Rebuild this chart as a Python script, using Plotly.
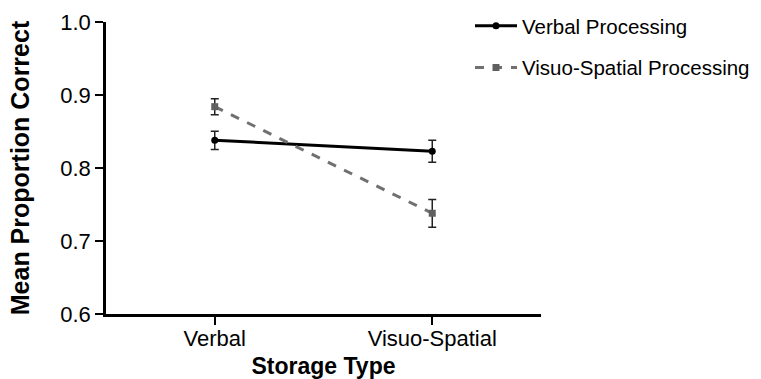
import plotly.graph_objects as go

categories = ["Verbal", "Visuo-Spatial"]
verbal_proc = [0.838, 0.823]
verbal_err = [0.0125, 0.015]
vs_proc = [0.884, 0.738]
vs_err = [0.011, 0.019]
y_ticks = [0.6, 0.7, 0.8, 0.9, 1.0]
y_ticklabels = ["0.6", "0.7", "0.8", "0.9", "1.0"]

FONT = "Liberation Sans, Arial, sans-serif"

W, H = 761, 379
L, B = 106, 65
plot_right = 541
plot_top = 22
paper_w = W - L
paper_h = H - B

fig = go.Figure()
fig.add_trace(go.Scatter(
    x=categories, y=verbal_proc, name="Verbal Processing", mode="lines+markers",
    line=dict(color="black", width=3),
    marker=dict(symbol="circle", size=7, color="black"),
    error_y=dict(type="data", array=verbal_err, visible=True, color="#222", thickness=1.5, width=4),
    legendgroup="a",
))
fig.add_trace(go.Scatter(
    x=categories, y=vs_proc, name="Visuo-Spatial Processing", mode="lines+markers",
    line=dict(color="#707070", width=3, dash="dash"),
    marker=dict(symbol="square", size=7, color="#606060"),
    error_y=dict(type="data", array=vs_err, visible=True, color="#222", thickness=1.5, width=4),
    legendgroup="b",
))

fig.update_layout(
    width=W, height=H,
    margin=dict(l=L, r=0, t=0, b=B, autoexpand=False),
    plot_bgcolor="white", paper_bgcolor="white",
    font=dict(family=FONT, color="black"),
    legend=dict(x=(470 - L) / paper_w, y=1.0 - 6 / paper_h, xanchor="left", yanchor="top",
                font=dict(size=20.5, family=FONT), tracegroupgap=12, itemwidth=42,
                traceorder="grouped", bgcolor="rgba(0,0,0,0)"),
    xaxis=dict(
        type="category", range=[-0.5, 1.5],
        domain=[0, (plot_right - L) / paper_w],
        showline=True, linecolor="black", linewidth=2.5,
        ticks="outside", ticklen=8, tickwidth=2, tickcolor="black",
        tickfont=dict(size=22, family=FONT), ticklabelstandoff=-5,
        showgrid=False, zeroline=False,
        title=dict(text="<b>Storage Type</b>", font=dict(size=23, family=FONT), standoff=10),
    ),
    yaxis=dict(
        range=[0.6, 1.0], tickvals=y_ticks, ticktext=y_ticklabels,
        domain=[0, (paper_h - plot_top) / paper_h],
        showline=True, linecolor="black", linewidth=2.5,
        ticks="outside", ticklen=8, tickwidth=2, tickcolor="black",
        tickfont=dict(size=22, family=FONT),
        showgrid=False, zeroline=False,
        title=dict(text="<b>Mean Proportion Correct</b>", font=dict(size=25, family=FONT), standoff=24),
    ),
)

fig.write_html("out.html", config={"displayModeBar": False},
               post_script="document.body.style.margin='0';")
